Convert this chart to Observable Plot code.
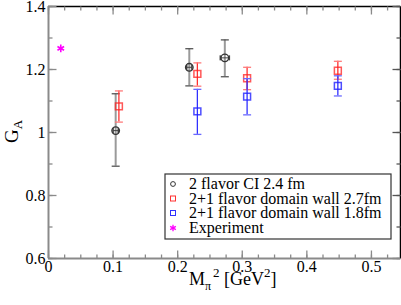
<!DOCTYPE html>
<html><head><meta charset="utf-8">
<script src="https://cdn.jsdelivr.net/npm/d3@7"></script>
<script src="https://cdn.jsdelivr.net/npm/@observablehq/plot@0.6"></script>
<style>body{margin:0;background:#fff} svg{display:block} svg text{font-family:"Liberation Serif","Times New Roman",Times,"DejaVu Serif",serif !important}</style>
</head><body><div id="chart"></div>
<script>
// 2 flavor CI 2.4 fm
const ciX = [0.104, 0.218, 0.273];
const ciY = [1.006, 1.207, 1.237];
const ciLo = [0.893, 1.148, 1.177];
const ciHi = [1.123, 1.266, 1.294];
const ciXerr = [0.004, 0.004, 0.007];
// 2+1 flavor domain wall 2.7fm
const dw27X = [0.109, 0.2305, 0.3075, 0.448];
const dw27Y = [1.083, 1.186, 1.172, 1.196];
const dw27Lo = [1.033, 1.147, 1.136, 1.169];
const dw27Hi = [1.132, 1.221, 1.207, 1.226];
// 2+1 flavor domain wall 1.8fm
const dw18X = [0.2305, 0.3075, 0.448];
const dw18Y = [1.067, 1.114, 1.148];
const dw18Lo = [0.994, 1.056, 1.116];
const dw18Hi = [1.137, 1.171, 1.180];
// Experiment
const expX = [0.019];
const expY = [1.267];

const legendLabels = ["2 flavor CI 2.4 fm", "2+1 flavor domain wall 2.7fm", "2+1 flavor domain wall 1.8fm", "Experiment"];
const xTicks = [0, 0.1, 0.2, 0.3, 0.4, 0.5];
const xMinor = d3.range(0, 0.5451, 0.025);
const yTicks = [0.6, 0.8, 1, 1.2, 1.4];
const yMinor = d3.range(0.6, 1.4001, 0.1);
const xMax = 0.545;

const mk = (xs, ys, lo, hi) => xs.map((x, i) => ({x, y: ys[i], lo: lo[i], hi: hi[i]}));
const ci = ciX.map((x, i) => ({x, y: ciY[i], lo: ciLo[i], hi: ciHi[i], xe: ciXerr[i]}));
const dw27 = mk(dw27X, dw27Y, dw27Lo, dw27Hi);
const dw18 = mk(dw18X, dw18Y, dw18Lo, dw18Hi);
const exp = expX.map((x, i) => ({x, y: expY[i]}));

const line = (dx1, dy1, dx2, dy2) => ({draw(ctx) { ctx.moveTo(dx1, dy1); ctx.lineTo(dx2, dy2); }});
const cap = line(-4, 0, 4, 0);
const GRAY = "#8a8a8a";
const FONT = "'Liberation Serif', 'Times New Roman', Times, 'DejaVu Serif', serif";

function errMarks(data, color, capColor, w) {
  return [
    Plot.ruleX(data, {x: "x", y1: "lo", y2: "hi", stroke: color, strokeWidth: w}),
    Plot.dot(data, {x: "x", y: "lo", symbol: cap, r: 1, fill: "none", stroke: capColor, strokeWidth: 1.3}),
    Plot.dot(data, {x: "x", y: "hi", symbol: cap, r: 1, fill: "none", stroke: capColor, strokeWidth: 1.3})
  ];
}

const chart = Plot.plot({
  width: 401, height: 305,
  marginLeft: 48, marginRight: 1, marginTop: 6, marginBottom: 47,
  style: {fontFamily: FONT, fontSize: "16px", background: "#fff"},
  x: {domain: [0, xMax], label: null},
  y: {domain: [0.6, 1.4], label: null},
  marks: [
    Plot.ruleY([1.4], {stroke: "#000", strokeWidth: 1.5}),
    Plot.ruleX([xMax], {stroke: "#000", strokeWidth: 1.5}),
    Plot.dot(xMinor, {x: d => d, y: 0.6, symbol: line(0, 0, 0, -4), r: 1, fill: "none", stroke: GRAY, strokeWidth: 1.3}),
    Plot.dot(xTicks, {x: d => d, y: 0.6, symbol: line(0, 0, 0, -8), r: 1, fill: "none", stroke: GRAY, strokeWidth: 1.3}),
    Plot.dot(xMinor, {x: d => d, y: 1.4, symbol: line(0, 0, 0, 4), r: 1, fill: "none", stroke: GRAY, strokeWidth: 1.3}),
    Plot.dot(xTicks, {x: d => d, y: 1.4, symbol: line(0, 0, 0, 8), r: 1, fill: "none", stroke: GRAY, strokeWidth: 1.3}),
    Plot.dot(yMinor, {x: 0, y: d => d, symbol: line(0, 0, 4, 0), r: 1, fill: "none", stroke: GRAY, strokeWidth: 1.3}),
    Plot.dot(yTicks, {x: 0, y: d => d, symbol: line(0, 0, 8, 0), r: 1, fill: "none", stroke: GRAY, strokeWidth: 1.3}),
    Plot.dot(yMinor, {x: xMax, y: d => d, symbol: line(0, 0, -4, 0), r: 1, fill: "none", stroke: "#555", strokeWidth: 1.3}),
    Plot.dot(yTicks, {x: xMax, y: d => d, symbol: line(0, 0, -8, 0), r: 1, fill: "none", stroke: "#555", strokeWidth: 1.3}),
    Plot.ruleY([0.6], {stroke: GRAY, strokeWidth: 2}),
    Plot.ruleX([0], {stroke: GRAY, strokeWidth: 2}),
    Plot.axisX({ticks: xTicks, tickSize: 0, tickPadding: 2, tickFormat: d => String(d), fontSize: 16, fontFamily: FONT, fill: "#000", label: null}),
    Plot.axisY({ticks: yTicks, tickSize: 0, tickPadding: 3, tickFormat: d => d === 1 ? "1" : d.toFixed(1), fontSize: 16, fontFamily: FONT, fill: "#000", label: null}),
    ...errMarks(ci, "#9a9a9a", "#555", 2),
    Plot.link(ci, {x1: d => d.x - d.xe, x2: d => d.x + d.xe, y1: "y", y2: "y", stroke: "#444", strokeWidth: 1}),
    Plot.dot(ci, {x: d => d.x - d.xe, y: "y", symbol: line(0, -2.5, 0, 2.5), r: 1, fill: "none", stroke: "#444"}),
    Plot.dot(ci, {x: d => d.x + d.xe, y: "y", symbol: line(0, -2.5, 0, 2.5), r: 1, fill: "none", stroke: "#444"}),
    Plot.dot(ci, {x: "x", y: "y", r: 3.8, stroke: "#333", strokeWidth: 1.3, fill: "none"}),
    ...errMarks(dw27, "#ff3030", "#ff7a7a", 1.3),
    Plot.dot(dw27, {x: "x", y: "y", symbol: "square", r: 3.9, stroke: "#ff2020", strokeOpacity: 0.75, strokeWidth: 1.5, fill: "none"}),
    ...errMarks(dw18, "#3030ff", "#6a6aff", 1.3),
    Plot.dot(dw18, {x: "x", y: "y", symbol: "square", r: 3.9, stroke: "#2020ff", strokeOpacity: 0.8, strokeWidth: 1.5, fill: "none"}),
    Plot.dot(exp, {x: "x", y: "y", symbol: "asterisk", r: 3.6, stroke: "#ff00ff", strokeWidth: 1.6, fill: "none"})
  ]
});

const svg = d3.select(chart);
const gy = svg.append("text").attr("transform", "translate(17.5,143) rotate(-90)")
  .attr("fill", "#000").attr("text-anchor", "start");
gy.append("tspan").attr("font-size", 19).text("G");
gy.append("tspan").attr("font-size", 13).attr("dy", 4.5).text("A");
const gx = svg.append("text").attr("x", 189).attr("y", 285).attr("text-anchor", "start")
  .attr("fill", "#000").attr("font-size", 18);
gx.append("tspan").text("M");
gx.append("tspan").attr("font-size", 12).attr("dy", 5).text("π");
gx.append("tspan").attr("font-size", 13).attr("dy", -13).attr("dx", 2).text("2");
gx.append("tspan").attr("dy", 8).text(" [GeV");
gx.append("tspan").attr("font-size", 13).attr("dy", -8).text("2");
gx.append("tspan").attr("dy", 8).text("]");

const lg = svg.append("g").attr("font-size", 16).attr("text-anchor", "start");
lg.append("rect").attr("x", 165).attr("y", 174).attr("width", 226).attr("height", 65)
  .attr("fill", "#fff").attr("stroke", "#333").attr("stroke-width", 1.2);
const rows = [184, 198.5, 213, 228];
legendLabels.forEach((t, i) => {
  lg.append("text").attr("x", 189).attr("y", rows[i] + 5).attr("fill", "#000").text(t);
});
lg.append("circle").attr("cx", 173).attr("cy", rows[0]).attr("r", 2.4).attr("fill", "none").attr("stroke", "#333").attr("stroke-width", 1);
lg.append("rect").attr("x", 170.5).attr("y", rows[1] - 2.5).attr("width", 5).attr("height", 5).attr("fill", "none").attr("stroke", "#ff3030").attr("stroke-width", 1);
lg.append("rect").attr("x", 170.5).attr("y", rows[2] - 2.5).attr("width", 5).attr("height", 5).attr("fill", "none").attr("stroke", "#3030ff").attr("stroke-width", 1);
lg.append("path").attr("transform", `translate(173,${rows[3]})`).attr("d", d3.symbol(d3.symbolAsterisk, 30)())
  .attr("fill", "none").attr("stroke", "#ff00ff").attr("stroke-width", 1.3);

document.getElementById("chart").appendChild(chart);
</script>
</body></html>
